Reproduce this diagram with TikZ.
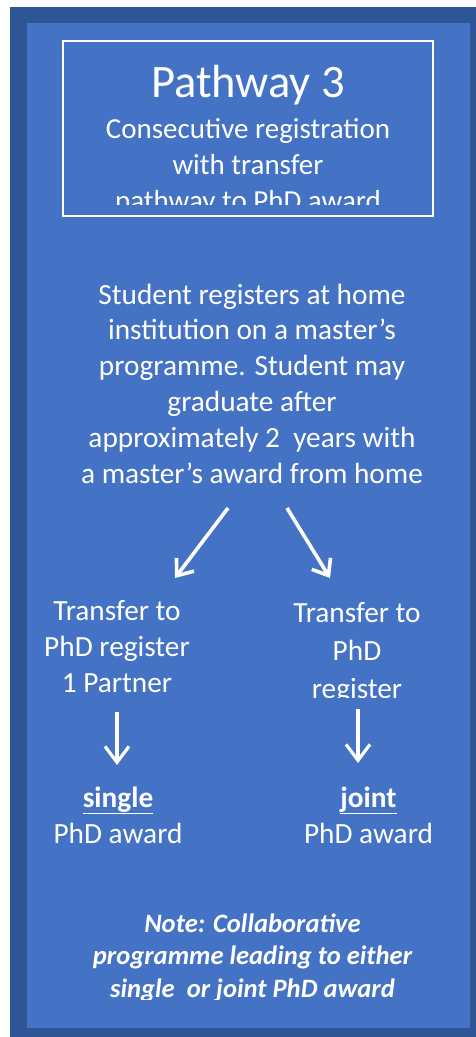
\documentclass[tikz,border=0pt]{standalone}
\usepackage{fontspec}
\setmainfont{Carlito}
\usetikzlibrary{arrows.meta}
\definecolor{outerblue}{HTML}{2F5597}
\definecolor{innerblue}{HTML}{4472C4}
\tikzset{
  txt/.style={text=white, inner sep=0pt, align=center, anchor=base},
  big/.style={font=\fontsize{29.3}{35.8}\selectfont},
  bigarrow/.style={white, line width=3.6pt, -{Straight Barb[length=14pt,width=22pt]}},
  downarrow/.style={white, line width=3.2pt, -{Straight Barb[length=16pt,width=24pt]}}
}
\begin{document}
\begin{tikzpicture}[x=1pt,y=-1pt]
\useasboundingbox (0,0) rectangle (476,1037);
\fill[white] (0,0) rectangle (476,1037);
\fill[outerblue] (10,7) rectangle (476,1037);
\fill[innerblue] (27,23) rectangle (470,1028);
% title box
\draw[white, line width=1.2pt] (63,41) rectangle (433,216);
\node[txt, font=\fontsize{46.5}{50}\selectfont] (title) at (248,97) {Pathway 3};
\begin{scope}
\clip (64,100) rectangle (432,204);
\node[txt, font=\fontsize{29}{36}\selectfont] (subtitle) at (248,210) {Consecutive registration\\with transfer\\pathway to PhD award};
\end{scope}
% main text
\node[txt, big] (main) at (252,483) {Student registers at home\\institution on a master’s\\programme. Student may\\graduate after\\approximately 2~ years with\\a master’s award from home};
\coordinate (dlA) at (228,508);
\coordinate (dlB) at (175,578);
\coordinate (drA) at (287,508);
\coordinate (drB) at (330,578);
\draw[bigarrow] (dlA) -- (dlB);
\draw[bigarrow] (drA) -- (drB);
% transfer texts
\node[txt, font=\fontsize{29.3}{36}\selectfont] (tleft) at (117,692) {Transfer to\\PhD register\\1 Partner};
\begin{scope}
\clip (250,590) rectangle (465,697);
\node[txt, font=\fontsize{29.3}{38}\selectfont] (tright) at (357,698) {Transfer to\\PhD\\register};
\end{scope}
\coordinate (alA) at (117,712);
\coordinate (alB) at (117,765);
\coordinate (arA) at (358,709);
\coordinate (arB) at (358,763);
\draw[downarrow] (alA) -- (alB);
\draw[downarrow] (arA) -- (arB);
% awards
\node[txt, big] (single) at (118,843) {\textbf{\underline{single}}\\PhD award};
\node[txt, big] (joint) at (368.5,843) {\textbf{\underline{joint}}\\PhD award};
% note
\begin{scope}
\clip (30,900) rectangle (465,999);
\node[txt, font=\fontsize{26.6}{32.3}\selectfont\bfseries\itshape] (note) at (252.5,997) {Note: Collaborative\\programme leading to either\\single~ or joint PhD award};
\end{scope}
\end{tikzpicture}
\end{document}
